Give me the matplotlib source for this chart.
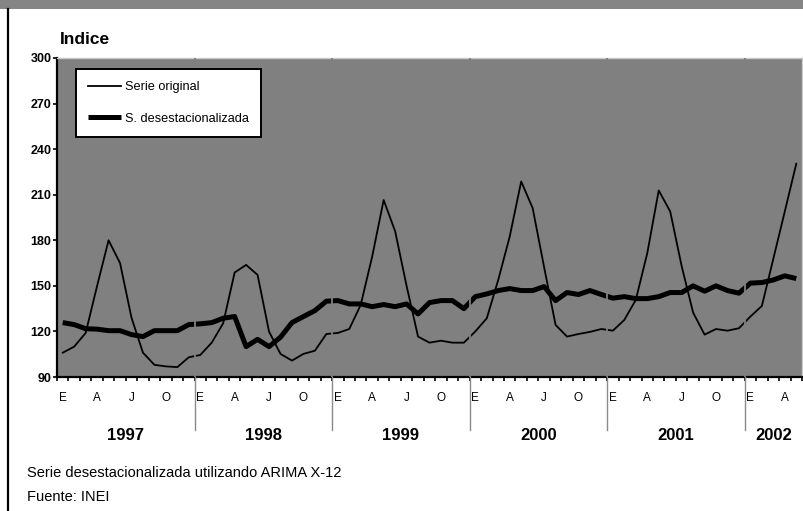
import matplotlib
matplotlib.use('Agg')
import matplotlib.pyplot as plt
from matplotlib.lines import Line2D
from matplotlib.patches import Rectangle
from matplotlib.transforms import blended_transform_factory

plt.rcParams['font.family'] = ['Liberation Sans', 'DejaVu Sans']

# Indices mensuales, enero 1997 - mayo 2002
years = ['1997', '1998', '1999', '2000', '2001', '2002']
month_letters = ['E', 'F', 'M', 'A', 'M', 'J', 'J', 'A', 'S', 'O', 'N', 'D']
shown_months = [0, 3, 6, 9]  # E, A, J, O

serie_original = [
    106, 110, 119, 150, 180, 165, 129, 106, 98, 97, 96.5, 103,
    104.5, 112.6, 125.4, 158.8, 163.8, 157.2, 119.9, 105.2, 100.8, 105.2, 107.3, 118.3,
    119, 121.6, 137.5, 169.3, 206.5, 186, 150, 116.6, 112.6, 113.9, 112.6, 112.6,
    120, 128.7, 154, 182.5, 218.7, 201.2, 162.3, 124.3, 116.6, 118.3, 119.7, 121.6,
    120.5, 127.6, 140.8, 171.5, 212.8, 199, 163, 132.4, 117.9, 121.6, 120.5, 122.1,
    129.8, 136.8, 167.9, 199, 230.4,
]
serie_desest = [
    125.8, 124.5, 121.8, 121.5, 120.5, 120.5, 117.9, 116.6, 120.5, 120.5, 120.5, 124.5,
    125, 125.8, 128.7, 129.8, 110, 114.8, 110, 116.2, 125.8, 129.8, 133.7, 139.9,
    140.3, 138.1, 138.1, 136.3, 137.7, 136.3, 138.1, 131.5, 139, 140.3, 140.3, 135,
    142.9, 144.7, 146.9, 148.2, 146.9, 146.9, 149.5, 140.3, 145.6, 144.3, 146.9, 144.3,
    141.9, 142.9, 141.6, 141.6, 142.9, 145.6, 145.6, 150, 146.5, 150, 146.9, 145.2,
    151.8, 152.2, 153.9, 156.6, 154.8,
]
y_ticks = [90, 120, 150, 180, 210, 240, 270, 300]

n = len(serie_original)
x = list(range(n))
bg = '#808080'

fig = plt.figure(figsize=(8.04, 5.11), dpi=100)
W, H = 804, 511

# barra gris superior y linea vertical izquierda
fig.patches.append(Rectangle((0, 1 - 9 / H), 1, 9 / H, transform=fig.transFigure,
                             facecolor='#858585', edgecolor='none'))
fig.lines.append(Line2D([8 / W, 8 / W], [0, 1 - 9 / H], transform=fig.transFigure,
                        color='black', lw=1.6))

ax = fig.add_axes([57 / W, 1 - 377 / H, 745 / W, 319 / H])
ax.set_facecolor(bg)

ax.plot(x, serie_original, color='black', lw=1.3, label='Serie original', zorder=3)
ax.plot(x, serie_desest, color='black', lw=3.6, label='S. desestacionalizada',
        solid_capstyle='butt', zorder=3)

ax.set_xlim(-0.5, n - 0.5)
ax.set_ylim(90, 300)

# separadores de año
trans = blended_transform_factory(ax.transData, ax.transAxes)
for i in range(1, len(years)):
    xs = 12 * i - 0.5
    ax.plot([xs, xs], [0, 1], transform=trans, color=bg, lw=1.3, zorder=4)
    ax.plot([xs, xs], [0, -0.166], transform=trans, color='#8a8a8a', lw=1.0,
            clip_on=False, zorder=4)

for i, yr in enumerate(years):
    months = min(12, n - 12 * i)
    xc = 12 * i + (months - 1) / 2
    ax.text(xc, -0.182, yr, transform=trans, ha='center', va='center',
            fontsize=12, fontweight='bold')

# ejes
ax.set_yticks(y_ticks)
ax.set_yticklabels([str(v) for v in y_ticks], fontsize=9, fontweight='bold')
ax.tick_params(axis='y', direction='out', length=3, width=1.2, pad=1)

ax.set_xticks([i - 0.5 for i in range(n + 1)])
ax.set_xticklabels([])
ax.tick_params(axis='x', which='major', direction='out', length=3, width=1.2)
lab_pos = [i for i in x if i % 12 in shown_months]
ax.set_xticks(lab_pos, minor=True)
ax.set_xticklabels([month_letters[i % 12] for i in lab_pos], minor=True, fontsize=8.5)
ax.tick_params(axis='x', which='minor', length=0, pad=11)

for s in ['left', 'bottom']:
    ax.spines[s].set_color('black')
    ax.spines[s].set_linewidth(1.6)
for s in ['top', 'right']:
    ax.spines[s].set_color('#c8c8c8')
    ax.spines[s].set_linewidth(1.0)

leg = ax.legend(loc='upper left', bbox_to_anchor=(0.0255, 0.9655), borderaxespad=0,
                fancybox=False, framealpha=1, edgecolor='black', fontsize=9.2,
                handlelength=2.6, handletextpad=0.3, labelspacing=1.55,
                borderpad=0.95)
leg.get_frame().set_linewidth(1.4)

fig.text(60 / W, 1 - 39 / H, 'Indice', fontsize=12.5, fontweight='bold',
         ha='left', va='center')
fig.text(27 / W, 1 - 473 / H, 'Serie desestacionalizada utilizando ARIMA X-12',
         fontsize=10.5, ha='left', va='center')
fig.text(27 / W, 1 - 497 / H, 'Fuente: INEI', fontsize=10.5, ha='left', va='center')

fig.savefig('out.png', dpi=100)
